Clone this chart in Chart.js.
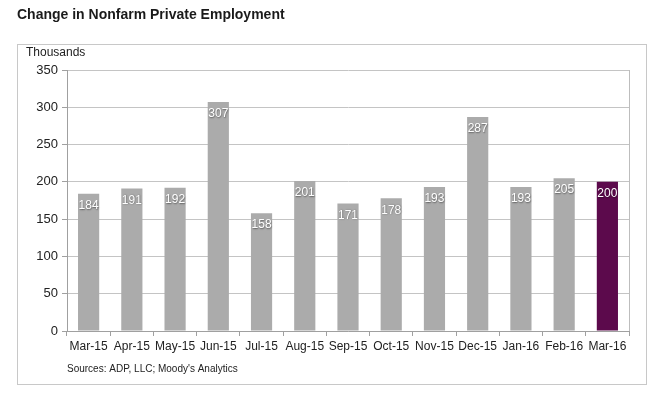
<!DOCTYPE html>
<html>
<head>
<meta charset="utf-8">
<script src="https://cdn.jsdelivr.net/npm/chart.js@4/dist/chart.umd.min.js"></script>
<style>
    html, body { margin: 0; padding: 0; background: #fff; }
    #wrap { position: relative; width: 665px; height: 395px; }
</style>
</head>
<body>
<div id="wrap"><canvas id="jobs-chart" width="665" height="395"></canvas></div>
<script>
// Chart data
const months = ['Mar-15', 'Apr-15', 'May-15', 'Jun-15', 'Jul-15', 'Aug-15', 'Sep-15',
    'Oct-15', 'Nov-15', 'Dec-15', 'Jan-16', 'Feb-16', 'Mar-16'];
const jobGains = [184, 191, 192, 307, 158, 201, 171, 178, 193, 287, 193, 205, 200];
const yTicks = [0, 50, 100, 150, 200, 250, 300, 350];

const greyBar = '#ababab';
const latestBar = '#5c0a4c';
const font = "'Liberation Sans', Arial, sans-serif";

// Frame, title, unit label, source and right plot border
const decorations = {
    id: 'decorations',
    beforeDraw(chart) {
        const ctx = chart.ctx;
        ctx.save();
        ctx.strokeStyle = '#c8c8c8';
        ctx.lineWidth = 1;
        ctx.strokeRect(17.5, 44.5, 629, 340);
        ctx.fillStyle = '#1a1a1a';
        ctx.font = 'bold 14px ' + font;
        ctx.textBaseline = 'middle';
        ctx.fillText('Change in Nonfarm Private Employment', 17, 15);
        ctx.font = '12px ' + font;
        ctx.fillStyle = '#222';
        ctx.fillText('Thousands', 26, 53);
        ctx.font = '10px ' + font;
        ctx.fillText("Sources: ADP, LLC; Moody's Analytics", 67, 369);
        ctx.restore();
    },
    afterDraw(chart) {
        const { ctx, chartArea } = chart;
        ctx.save();
        ctx.strokeStyle = '#bdbdbd';
        ctx.lineWidth = 1;
        ctx.beginPath();
        ctx.moveTo(Math.round(chartArea.right) + 0.5, chartArea.top);
        ctx.lineTo(Math.round(chartArea.right) + 0.5, chartArea.bottom);
        ctx.stroke();
        ctx.restore();
    }
};

// White value labels just inside the bar tops
const barLabels = {
    id: 'barLabels',
    afterDatasetsDraw(chart) {
        const ctx = chart.ctx;
        const meta = chart.getDatasetMeta(0);
        ctx.save();
        ctx.font = '12px ' + font;
        ctx.textAlign = 'center';
        ctx.textBaseline = 'middle';
        ctx.fillStyle = '#fff';
        ctx.shadowColor = 'rgba(0,0,0,0.45)';
        ctx.shadowBlur = 1.5;
        ctx.shadowOffsetX = 0.5;
        ctx.shadowOffsetY = 0.5;
        meta.data.forEach((bar, i) => {
            ctx.fillText(String(jobGains[i]), bar.x, bar.y + 12);
        });
        ctx.restore();
    }
};

new Chart(document.getElementById('jobs-chart'), {
    type: 'bar',
    data: {
        labels: months,
        datasets: [{
            data: jobGains,
            backgroundColor: jobGains.map((v, i) => i === jobGains.length - 1 ? latestBar : greyBar),
            borderWidth: 0,
            barPercentage: 0.49,
            categoryPercentage: 1
        }]
    },
    options: {
        responsive: false,
        animation: false,
        layout: { padding: { left: 17, right: 36, top: 70, bottom: 34 } },
        plugins: { legend: { display: false }, tooltip: { enabled: false } },
        scales: {
            x: {
                afterFit: s => { s.height = 30; },
                border: { color: '#a0a0a0' },
                grid: { offset: true, drawOnChartArea: false, drawTicks: true, tickLength: 5, color: '#a0a0a0' },
                ticks: { color: '#222', font: { family: font, size: 12 }, padding: 3, maxRotation: 0, autoSkip: false }
            },
            y: {
                min: 0,
                max: 350,
                afterFit: s => { s.width = 50; },
                afterBuildTicks: s => { s.ticks = yTicks.map(v => ({ value: v })); },
                border: { color: '#a0a0a0' },
                grid: { color: '#c4c4c4', tickLength: 5, tickColor: '#a0a0a0' },
                ticks: { color: '#222', font: { family: font, size: 13 }, padding: 4 }
            }
        }
    },
    plugins: [decorations, barLabels]
});
</script>
</body>
</html>
